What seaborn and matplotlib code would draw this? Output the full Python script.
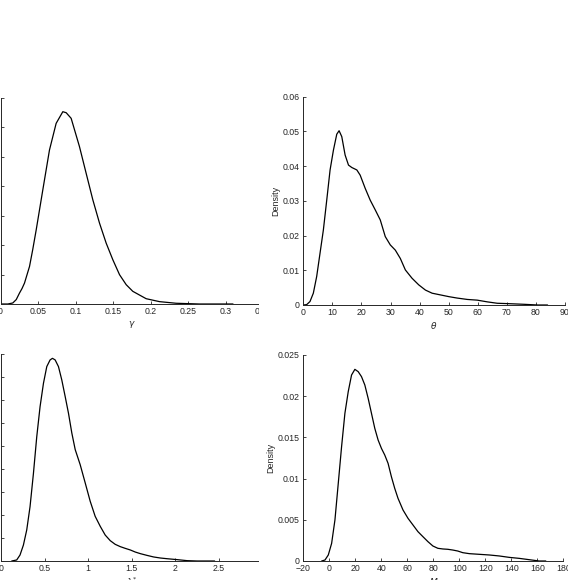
import matplotlib
matplotlib.use("Agg")
import matplotlib.pyplot as plt
import seaborn as sns
from matplotlib.patches import Rectangle

# posterior density curves
gamma_x = [0.0, 0.0098, 0.0164, 0.021, 0.0253, 0.0287, 0.032, 0.0387, 0.043, 0.0476,
           0.0564, 0.0653, 0.0742, 0.0831, 0.0876, 0.0942, 0.1053, 0.1142, 0.1231, 0.132,
           0.1409, 0.1498, 0.1587, 0.1676, 0.1764, 0.1942, 0.212, 0.2342, 0.2653, 0.31]
gamma_d = [0.0, 0.0, 0.07, 0.3, 0.74, 1.05, 1.42, 2.55, 3.7, 5.03,
           7.74, 10.45, 12.26, 13.05, 12.98, 12.6, 10.68, 8.87, 7.07, 5.49,
           4.13, 3.0, 1.99, 1.31, 0.86, 0.36, 0.16, 0.05, 0.0, 0.0]

theta_x = [0, 1.15, 2.3, 3.45, 4.6, 5.75, 6.9, 8.06, 9.21, 10.36,
           11.51, 12.31, 13.23, 14.38, 15.54, 16.69, 18.41, 19.56, 21.29, 23.01,
           24.74, 26.47, 28.19, 29.92, 31.65, 33.37, 35.1, 37.4, 39.7, 42.0,
           44.3, 47.2, 50.1, 52.9, 56.4, 59.8, 63.3, 66.7, 70.2, 75.9, 80.6, 84.0]
theta_d = [0, 0.0001, 0.001, 0.0034, 0.0082, 0.0149, 0.0216, 0.0302, 0.0389, 0.0446,
           0.0492, 0.0502, 0.0485, 0.0432, 0.0403, 0.0396, 0.0389, 0.0374, 0.0336, 0.0302,
           0.0274, 0.0245, 0.0197, 0.0173, 0.0158, 0.0134, 0.0101, 0.0077, 0.0058, 0.0043,
           0.0034, 0.0029, 0.0024, 0.002, 0.0016, 0.0014, 0.0009, 0.0005, 0.0004, 0.0002, 0, 0]

lam_x = [0.123, 0.18, 0.218, 0.257, 0.295, 0.333, 0.372, 0.41, 0.448, 0.487,
         0.525, 0.563, 0.59, 0.621, 0.659, 0.697, 0.736, 0.774, 0.812, 0.851,
         0.908, 0.966, 1.023, 1.08, 1.138, 1.195, 1.253, 1.31, 1.368, 1.425,
         1.483, 1.54, 1.598, 1.674, 1.751, 1.828, 1.904, 2.019, 2.134, 2.249, 2.45]
lam_d = [0, 0.009, 0.052, 0.139, 0.27, 0.473, 0.763, 1.082, 1.344, 1.548,
         1.693, 1.751, 1.765, 1.751, 1.693, 1.577, 1.432, 1.286, 1.115, 0.97,
         0.839, 0.679, 0.52, 0.389, 0.302, 0.226, 0.177, 0.145, 0.125, 0.11,
         0.096, 0.078, 0.064, 0.049, 0.035, 0.026, 0.02, 0.012, 0.003, 0, 0]

m_x = [-5.87, -3.32, -0.77, 1.79, 4.34, 6.9, 9.45, 12.0, 14.56, 17.11,
       19.67, 22.22, 24.78, 27.33, 29.89, 32.44, 34.99, 37.55, 40.1, 42.66,
       45.21, 47.77, 50.32, 52.87, 56.7, 60.54, 64.37, 68.2, 72.03, 75.86,
       79.69, 83.52, 87.36, 91.19, 95.02, 98.85, 102.68, 107.79, 115.45, 123.12,
       130.78, 138.44, 146.1, 153.77, 161.43, 166.54]
m_d = [0, 0.00012, 0.00073, 0.00214, 0.00498, 0.00943, 0.01388, 0.01792, 0.02055, 0.02257,
       0.02326, 0.02298, 0.02237, 0.02136, 0.01974, 0.01792, 0.0161, 0.01468, 0.01367, 0.01286,
       0.01185, 0.01023, 0.00882, 0.0076, 0.00619, 0.00518, 0.00437, 0.00356, 0.00295, 0.00235,
       0.00182, 0.00154, 0.00146, 0.00142, 0.00133, 0.00121, 0.00101, 0.00089, 0.00081, 0.00073,
       0.00061, 0.00044, 0.00032, 0.00016, 0, 0]

gamma_xticks = [0, 0.05, 0.1, 0.15, 0.2, 0.25, 0.3, 0.35]
gamma_xlabels = ["0", "0.05", "0.1", "0.15", "0.2", "0.25", "0.3", "0.35"]
theta_xticks = list(range(0, 100, 10))
lam_xticks = [0, 0.5, 1, 1.5, 2, 2.5, 3]
lam_xlabels = ["0", "0.5", "1", "1.5", "2", "2.5", "3"]
m_xticks = list(range(-20, 200, 20))
m_xlabels = ["\u221220"] + [str(v) for v in range(0, 200, 20)]

sns.set_theme(style="ticks")
plt.rcParams["font.family"] = ["Liberation Sans", "DejaVu Sans"]
ink = "#262626"
plt.rcParams.update({
    "xtick.direction": "in", "ytick.direction": "in",
    "xtick.major.size": 2.2, "ytick.major.size": 2.2,
    "xtick.major.width": 0.6, "ytick.major.width": 0.6,
    "xtick.major.pad": 2.5, "ytick.major.pad": 2.5,
    "xtick.color": ink, "ytick.color": ink,
    "xtick.labelsize": 6.3, "ytick.labelsize": 6.3,
    "axes.edgecolor": ink, "axes.linewidth": 0.7,
    "axes.labelcolor": ink, "axes.labelsize": 6.5,
    "axes.labelpad": 1.5,
})

W, H = 568, 580
fig = plt.figure(figsize=(W / 100, H / 100), dpi=100)


def add_ax(x0, y_top, x1, y_bot, z=0):
    return fig.add_axes([x0 / W, 1 - y_bot / H, (x1 - x0) / W, (y_bot - y_top) / H], zorder=z)


ax1 = add_ax(0.5, 97.7, 263, 304)
ax3 = add_ax(1, 354.3, 262.6, 561)
# the left panels are cut off on the right in the reference
fig.add_artist(Rectangle((259 / W, 0), 41 / W, 1, transform=fig.transFigure,
                         facecolor="white", edgecolor="none", zorder=0.5))
ax2 = add_ax(303.3, 96.7, 565, 305, z=1)
ax4 = add_ax(303.3, 355, 563.3, 561, z=1)

panels = [
    (ax1, gamma_x, gamma_d, (0, 0.35), (0, 14), gamma_xticks, gamma_xlabels,
     [0, 2, 4, 6, 8, 10, 12, 14], r"$\gamma$"),
    (ax2, theta_x, theta_d, (0, 90), (0, 0.06), theta_xticks, [str(v) for v in theta_xticks],
     [0, 0.01, 0.02, 0.03, 0.04, 0.05, 0.06], r"$\theta$"),
    (ax3, lam_x, lam_d, (0, 3), (0, 1.8), lam_xticks, lam_xlabels,
     [0, 0.2, 0.4, 0.6, 0.8, 1.0, 1.2, 1.4, 1.6, 1.8], r"$\lambda^{*}$"),
    (ax4, m_x, m_d, (-20, 180), (0, 0.025), m_xticks, m_xlabels,
     [0, 0.005, 0.01, 0.015, 0.02, 0.025], r"$M$"),
]

for ax, xs, ds, xlim, ylim, xt, xl, yt, xlabel in panels:
    sns.lineplot(x=xs, y=ds, ax=ax, color="black", linewidth=0.9, estimator=None)
    ax.set_xlim(*xlim)
    ax.set_ylim(*ylim)
    ax.set_xticks(xt)
    ax.set_xticklabels(xl)
    ax.set_yticks(yt)
    ax.set_yticklabels([f"{v:g}" for v in yt])
    ax.set_xlabel(xlabel)
    ax.set_ylabel("Density")
    sns.despine(ax=ax)

fig.savefig("out.png", dpi=100)
